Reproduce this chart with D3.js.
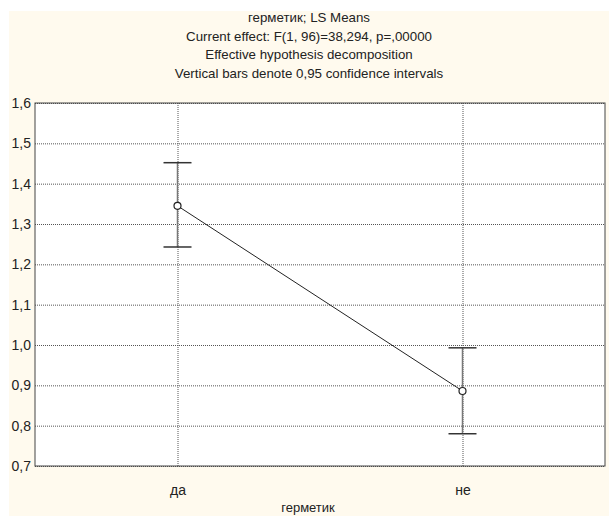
<!DOCTYPE html>
<html>
<head>
<meta charset="utf-8">
<script src="https://cdn.jsdelivr.net/npm/d3@7"></script>
<style>
  body { margin: 0; background: #fff; }
  text { font-family: "Liberation Sans", Arial, sans-serif; fill: #222; }
</style>
</head>
<body>
<div id="chart"></div>
<script>
// chart data
const categories = ["да", "не"];
const means = [1.345, 0.886];
const ciLow = [1.243, 0.780];
const ciHigh = [1.452, 0.993];
const yTicks = [0.7, 0.8, 0.9, 1.0, 1.1, 1.2, 1.3, 1.4, 1.5, 1.6];
const titleLines = [
  "герметик; LS Means",
  "Current effect: F(1, 96)=38,294, p=,00000",
  "Effective hypothesis decomposition",
  "Vertical bars denote 0,95 confidence intervals"
];
const xTitle = "герметик";

const W = 609, H = 516;
const MARGIN = { LEFT: 35, RIGHT: 4, TOP: 103, BOTTOM: 50 };
const PW = W - MARGIN.LEFT - MARGIN.RIGHT;
const PH = H - MARGIN.TOP - MARGIN.BOTTOM;

const svg = d3.select("#chart").append("svg").attr("width", W).attr("height", H);

// cream background of the statistica window
svg.append("rect").attr("x", 9).attr("y", 11).attr("width", W - 9).attr("height", H - 11).attr("fill", "#fffaee");

// titles
svg.selectAll(".title").data(titleLines).enter().append("text")
  .attr("class", "title")
  .attr("x", 309)
  .attr("y", (d, i) => 22 + i * 18.5)
  .attr("text-anchor", "middle")
  .attr("font-size", "13.3px")
  .text(d => d);

const g = svg.append("g").attr("transform", `translate(${MARGIN.LEFT},${MARGIN.TOP})`);
g.append("rect").attr("width", PW).attr("height", PH).attr("fill", "#fff");

const x = d3.scalePoint().domain(categories).range([0, PW]).padding(0.5);
const y = d3.scaleLinear().domain([0.7, 1.6]).range([PH, 0]);
const fmt = d => d3.format(".1f")(d).replace(".", ",");

// y axis with dotted grid
const yAxis = g.append("g").call(d3.axisLeft(y).tickValues(yTicks).tickSize(-PW).tickPadding(4).tickFormat(fmt));
yAxis.select(".domain").remove();
yAxis.selectAll("line").attr("stroke", "#555").attr("stroke-dasharray", "1,1");
yAxis.selectAll("text").attr("font-size", "14px").attr("fill", "#222");

// x axis with dotted grid
const xAxis = g.append("g").attr("transform", `translate(0,${PH})`)
  .call(d3.axisBottom(x).tickSize(-PH).tickPadding(19));
xAxis.select(".domain").remove();
xAxis.selectAll("line").attr("stroke", "#555").attr("stroke-dasharray", "1,1");
xAxis.selectAll("text").attr("font-size", "14px").attr("fill", "#222");

// frame
g.append("rect").attr("width", PW).attr("height", PH).attr("fill", "none").attr("stroke", "#444").attr("stroke-width", 1);

svg.append("text")
  .attr("x", MARGIN.LEFT + PW / 2 - 12)
  .attr("y", H - 4)
  .attr("text-anchor", "middle")
  .attr("font-size", "13px")
  .text(xTitle);

// error bars
categories.forEach((c, i) => {
  g.append("line").attr("x1", x(c)).attr("x2", x(c)).attr("y1", y(ciLow[i])).attr("y2", y(ciHigh[i]))
    .attr("stroke", "#777").attr("stroke-width", 1.5);
  [ciLow[i], ciHigh[i]].forEach(v => {
    g.append("line").attr("x1", x(c) - 14).attr("x2", x(c) + 14).attr("y1", y(v)).attr("y2", y(v))
      .attr("stroke", "#333").attr("stroke-width", 1.5);
  });
});

// mean line and markers
const line = d3.line().x((d, i) => x(categories[i])).y(d => y(d));
g.append("path").datum(means).attr("d", line).attr("fill", "none").attr("stroke", "#222").attr("stroke-width", 1);
g.selectAll(".pt").data(means).enter().append("circle")
  .attr("cx", (d, i) => x(categories[i])).attr("cy", d => y(d)).attr("r", 3.5)
  .attr("fill", "#fff").attr("stroke", "#222").attr("stroke-width", 1.2);
</script>
</body>
</html>
